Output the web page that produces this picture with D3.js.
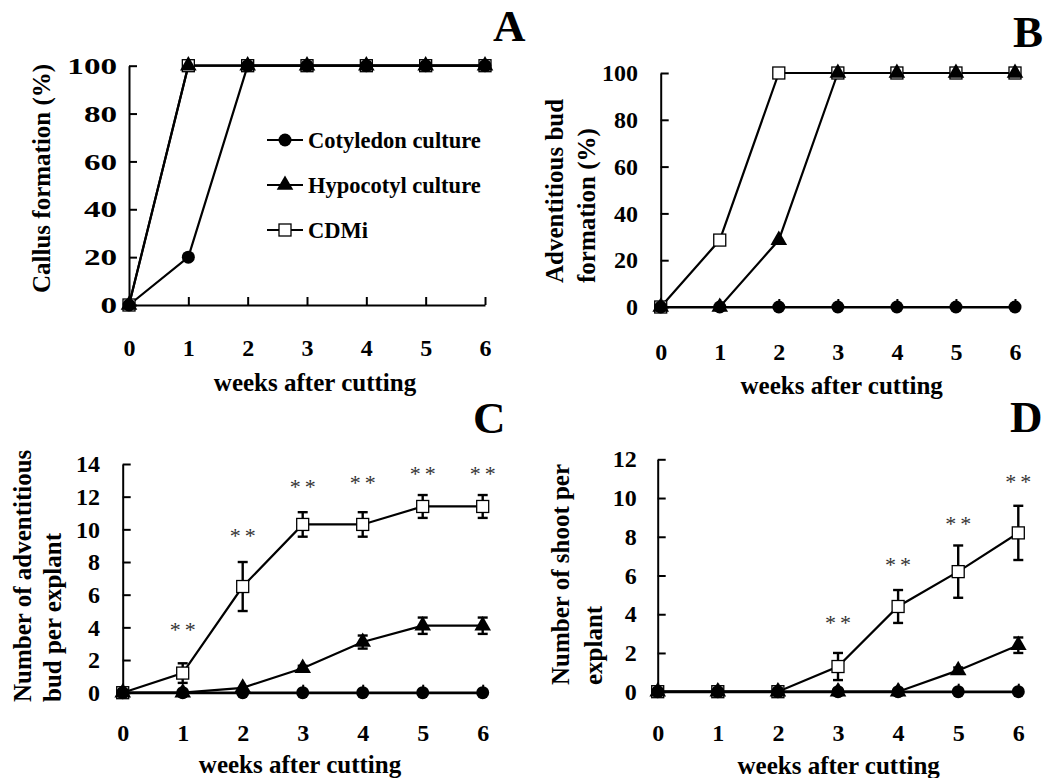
<!DOCTYPE html>
<html>
<head>
<meta charset="utf-8">
<script src="https://cdn.jsdelivr.net/npm/d3@7"></script>
<style>
  html, body { margin: 0; padding: 0; background: #fff; }
  svg text { font-family: "Liberation Serif", "Times New Roman", serif; }
</style>
</head>
<body>
<svg id="chart" width="1044" height="778"></svg>
<script>
// ---------------- DATA ----------------
const weeks = [0, 1, 2, 3, 4, 5, 6];
const seriesNames = ["Cotyledon culture", "Hypocotyl culture", "CDMi"];

// Panel A: Callus formation (%)
const aCotyledon = [0, 20, 100, 100, 100, 100, 100];
const aHypocotyl = [0, 100, 100, 100, 100, 100, 100];
const aCDMi      = [0, 100, 100, 100, 100, 100, 100];

// Panel B: Adventitious bud formation (%)
const bCotyledon = [0, 0, 0, 0, 0, 0, 0];
const bHypocotyl = [0, 0, 28.6, 100, 100, 100, 100];
const bCDMi      = [0, 28.6, 100, 100, 100, 100, 100];

// Panel C: Number of adventitious bud per explant
const cCotyledon    = [0, 0, 0, 0, 0, 0, 0];
const cHypocotyl    = [0, 0, 0.3, 1.5, 3.1, 4.1, 4.1];
const cHypocotylErr = [0, 0, 0, 0.15, 0.4, 0.5, 0.5];
const cCDMi         = [0, 1.2, 6.5, 10.3, 10.3, 11.4, 11.4];
const cCDMiErr      = [0, 0.6, 1.5, 0.75, 0.75, 0.7, 0.7];
const cSigWeeks     = [1, 2, 3, 4, 5, 6];
const cSigY         = [4.0, 9.8, 12.8, 13.0, 13.6, 13.6];

// Panel D: Number of shoot per explant
const dCotyledon    = [0, 0, 0, 0, 0, 0, 0];
const dHypocotyl    = [0, 0, 0, 0, 0, 1.1, 2.4];
const dHypocotylErr = [0, 0, 0, 0, 0, 0.15, 0.4];
const dCDMi         = [0, 0, 0, 1.3, 4.4, 6.2, 8.2];
const dCDMiErr      = [0, 0, 0, 0.7, 0.85, 1.35, 1.4];
const dSigWeeks     = [3, 4, 5, 6];
const dSigY         = [3.7, 6.7, 8.8, 11.0];

const pctTicks   = [0, 20, 40, 60, 80, 100];
const cTicks     = [0, 2, 4, 6, 8, 10, 12, 14];
const dTicks     = [0, 2, 4, 6, 8, 10, 12];
const xTitle     = "weeks after cutting";

// ---------------- DRAW ----------------
const svg = d3.select("#chart");
const FONT = '"Liberation Serif", "Times New Roman", serif';

function drawPanel(p) {
  const x = d3.scaleLinear().domain([0, 6]).range([p.x0, p.x1]);
  const y = d3.scaleLinear().domain([0, p.ymax]).range([p.y0, p.y1]);
  const g = svg.append("g");

  // axes
  const yAxis = g.append("g").attr("transform", `translate(${p.x0},0)`)
    .call(d3.axisLeft(y).tickValues(p.yTicks).tickSizeInner(-8).tickSizeOuter(0).tickPadding(p.yPad));
  const xAxis = g.append("g").attr("transform", `translate(0,${p.y0})`)
    .call(d3.axisBottom(x).tickValues(weeks).tickSizeInner(-8).tickSizeOuter(0).tickPadding(p.xPad).tickFormat(d3.format("d")));
  [yAxis, xAxis].forEach(a => {
    a.select(".domain").attr("stroke", "#000").attr("stroke-width", 2);
    a.selectAll(".tick line").attr("stroke", "#000").attr("stroke-width", 2);
    a.selectAll("text").attr("fill", "#000").style("font-family", FONT)
      .style("font-size", "24px").style("font-weight", "bold");
  });
  if (p.yStretch) {
    yAxis.selectAll("text").attr("x", -p.yPad / p.yStretch).attr("transform", `scale(${p.yStretch},1)`);
  }

  // axis titles
  g.append("text").attr("x", p.xtX).attr("y", p.xtY).attr("text-anchor", "middle")
    .style("font-size", "25px").style("font-weight", "bold").text(xTitle);
  p.yTitle.forEach((t, i) => {
    g.append("text").attr("transform", `translate(${p.ytX[i]},${p.ytBottom}) rotate(-90)`)
      .attr("text-anchor", "start").style("font-size", "25px").style("font-weight", "bold").text(t);
  });

  // panel letter
  g.append("text").attr("x", p.letterX).attr("y", p.letterY)
    .style("font-size", "45px").style("font-weight", "bold").text(p.letter);

  const line = d3.line().x((d, i) => x(weeks[i])).y(d => y(d));

  // series order: CDMi (bottom), Hypocotyl, Cotyledon (top)
  const order = [
    { vals: p.cdmi, err: p.cdmiErr, type: "square" },
    { vals: p.hyp, err: p.hypErr, type: "triangle" },
    { vals: p.cot, err: null, type: "circle" }
  ];
  order.forEach(s => {
    g.append("path").datum(s.vals).attr("d", line)
      .attr("fill", "none").attr("stroke", "#000").attr("stroke-width", 2.2);
  });
  order.forEach(s => {
    if (!s.err) return;
    s.vals.forEach((v, i) => {
      const e = s.err[i];
      if (!e) return;
      const cx = x(weeks[i]);
      g.append("line").attr("x1", cx).attr("x2", cx).attr("y1", y(v - e)).attr("y2", y(v + e))
        .attr("stroke", "#000").attr("stroke-width", 2.4);
      [v - e, v + e].forEach(ev => {
        g.append("line").attr("x1", cx - 5).attr("x2", cx + 5).attr("y1", y(ev)).attr("y2", y(ev))
          .attr("stroke", "#000").attr("stroke-width", 2.4);
      });
    });
  });
  order.forEach(s => {
    s.vals.forEach((v, i) => drawMarker(g, s.type, x(weeks[i]), y(v)));
  });

  // significance asterisks
  if (p.sigW) {
    p.sigW.forEach((w, i) => {
      [-7.5, 7.5].forEach(off => {
        g.append("text").attr("x", x(w) + off).attr("y", y(p.sigY[i]) + 10).attr("text-anchor", "middle")
          .attr("fill", "#333").style("font-size", "22px").text("*");
      });
    });
  }
  return g;
}

function drawMarker(g, type, cx, cy) {
  if (type === "circle") {
    g.append("circle").attr("cx", cx).attr("cy", cy).attr("r", 6.5).attr("fill", "#000");
  } else if (type === "triangle") {
    g.append("path").attr("d", d3.symbol(d3.symbolTriangle, 120)())
      .attr("transform", `translate(${cx},${cy})`).attr("fill", "#000");
  } else {
    g.append("rect").attr("x", cx - 6).attr("y", cy - 6).attr("width", 12).attr("height", 12)
      .attr("fill", "#fff").attr("stroke", "#000").attr("stroke-width", 1.3);
  }
}

drawPanel({
  x0: 129, x1: 485, y0: 305, y1: 65.7, ymax: 100, yTicks: pctTicks, yPad: 12, yStretch: 1.38, xPad: 34,
  xtX: 315, xtY: 391, yTitle: ["Callus formation (%)"], ytX: [50], ytBottom: 293,
  letter: "A", letterX: 493, letterY: 41,
  cot: aCotyledon, hyp: aHypocotyl, cdmi: aCDMi
});
drawPanel({
  x0: 660.7, x1: 1015, y0: 307, y1: 73, ymax: 100, yTicks: pctTicks, yPad: 22.7, xPad: 36,
  xtX: 841.7, xtY: 394, yTitle: ["Adventitious bud", "formation (%)"], ytX: [563, 595], ytBottom: 283,
  letter: "B", letterX: 1013, letterY: 47,
  cot: bCotyledon, hyp: bHypocotyl, cdmi: bCDMi
});
drawPanel({
  x0: 122.7, x1: 482.7, y0: 692.7, y1: 464, ymax: 14, yTicks: cTicks, yPad: 22.7, xPad: 31,
  xtX: 300, xtY: 773, yTitle: ["Number of adventitious", "bud per explant"], ytX: [31, 61], ytBottom: 702,
  letter: "C", letterX: 473, letterY: 433,
  cot: cCotyledon, hyp: cHypocotyl, hypErr: cHypocotylErr, cdmi: cCDMi, cdmiErr: cCDMiErr,
  sigW: cSigWeeks, sigY: cSigY
});
drawPanel({
  x0: 657.7, x1: 1018.3, y0: 691.7, y1: 459.3, ymax: 12, yTicks: dTicks, yPad: 21, xPad: 32,
  xtX: 838.7, xtY: 774, yTitle: ["Number of shoot per", "explant"], ytX: [569, 602], ytBottom: 685,
  letter: "D", letterX: 1010, letterY: 432,
  cot: dCotyledon, hyp: dHypocotyl, hypErr: dHypocotylErr, cdmi: dCDMi, cdmiErr: dCDMiErr,
  sigW: dSigWeeks, sigY: dSigY
});

// legend (in panel A)
const legend = svg.append("g");
const legTypes = ["circle", "triangle", "square"];
const legY = [140, 185, 230];
seriesNames.forEach((name, i) => {
  legend.append("line").attr("x1", 267).attr("x2", 303).attr("y1", legY[i]).attr("y2", legY[i])
    .attr("stroke", "#000").attr("stroke-width", 2);
  drawMarker(legend, legTypes[i], 285, legY[i]);
  legend.append("text").attr("x", 308).attr("y", legY[i] + 8)
    .style("font-size", "22.5px").style("font-weight", "bold").text(name);
});
</script>
</body>
</html>
